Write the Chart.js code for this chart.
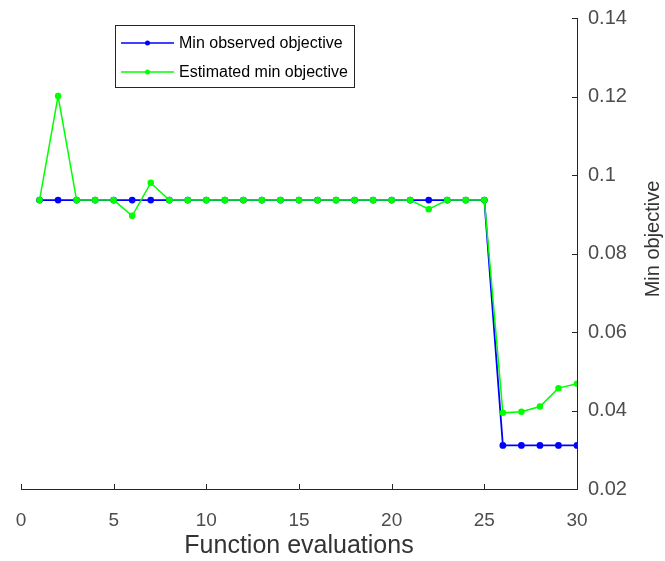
<!DOCTYPE html>
<html>
<head>
<meta charset="utf-8">
<script src="https://cdn.jsdelivr.net/npm/chart.js@4/dist/chart.umd.min.js"></script>
<style>
  html, body { margin: 0; padding: 0; background: #fff; }
  #wrap { width: 665px; height: 561px; }
</style>
</head>
<body>
<div id="wrap"><canvas id="objChart" width="665" height="561"></canvas></div>
<script>
// data
const evals = [1,2,3,4,5,6,7,8,9,10,11,12,13,14,15,16,17,18,19,20,21,22,23,24,25,26,27,28,29,30];
const minObserved = [0.0936,0.0936,0.0936,0.0936,0.0936,0.0936,0.0936,0.0936,0.0936,0.0936,
                     0.0936,0.0936,0.0936,0.0936,0.0936,0.0936,0.0936,0.0936,0.0936,0.0936,
                     0.0936,0.0936,0.0936,0.0936,0.0936,0.0311,0.0311,0.0311,0.0311,0.0311];
const minEstimated = [0.0936,0.1201,0.0936,0.0936,0.0936,0.0896,0.0980,0.0936,0.0936,0.0936,
                      0.0936,0.0936,0.0936,0.0936,0.0936,0.0936,0.0936,0.0936,0.0936,0.0936,
                      0.0936,0.0913,0.0936,0.0936,0.0936,0.0394,0.0397,0.0410,0.0457,0.0468];
const xTicks = [0, 5, 10, 15, 20, 25, 30];
const yTicks = [0.02, 0.04, 0.06, 0.08, 0.1, 0.12, 0.14];
const seriesNames = ['Min observed objective', 'Estimated min objective'];
const xTitle = 'Function evaluations';
const yTitle = 'Min objective';

const axisColor = '#262626';
const labelColor = '#4d4d4d';
const font = '"Liberation Sans", Arial, sans-serif';

// inward ticks, rotated y title and boxed legend like the original figure
const extrasPlugin = {
  id: 'extras',
  afterDraw(chart) {
    const c = chart.ctx;
    const x = chart.scales.x, y = chart.scales.y;
    const area = chart.chartArea;
    c.save();
    c.strokeStyle = axisColor;
    c.lineWidth = 1;
    c.beginPath();
    xTicks.forEach(v => {
      const px = Math.round(x.getPixelForValue(v)) + 0.5;
      c.moveTo(px, area.bottom);
      c.lineTo(px, area.bottom - 5);
    });
    yTicks.forEach(v => {
      const py = Math.round(y.getPixelForValue(v)) + 0.5;
      c.moveTo(area.right, py);
      c.lineTo(area.right - 5, py);
    });
    c.stroke();

    // y title, reading bottom to top
    c.fillStyle = '#333';
    c.font = '20px ' + font;
    c.textAlign = 'center';
    c.textBaseline = 'middle';
    c.translate(653, 239);
    c.rotate(-Math.PI / 2);
    c.fillText(yTitle, 0, 0);
    c.restore();

    // legend
    c.save();
    const lx = 115.5, ly = 25.5, lw = 239, lh = 62;
    c.fillStyle = '#fff';
    c.fillRect(lx, ly, lw, lh);
    c.strokeStyle = axisColor;
    c.lineWidth = 1;
    c.strokeRect(lx, ly, lw, lh);
    c.font = '16px ' + font;
    c.textAlign = 'left';
    c.textBaseline = 'middle';
    chart.data.datasets.forEach((ds, i) => {
      const rowY = 43 + i * 29;
      c.strokeStyle = ds.borderColor;
      c.lineWidth = 1.5;
      c.beginPath();
      c.moveTo(121, rowY);
      c.lineTo(174, rowY);
      c.stroke();
      c.fillStyle = ds.borderColor;
      c.beginPath();
      c.arc(147.5, rowY, 2.5, 0, Math.PI * 2);
      c.fill();
      c.fillStyle = '#000';
      c.fillText(ds.label, 179, rowY + 1);
    });
    c.restore();
  }
};

const chart = new Chart(document.getElementById('objChart'), {
  type: 'line',
  data: {
    datasets: [{
      label: seriesNames[0],
      data: evals.map((e, i) => ({ x: e, y: minObserved[i] })),
      borderColor: '#0000ff',
      backgroundColor: '#0000ff',
      borderWidth: 1.8,
      pointRadius: 2.5,
      order: 1
    }, {
      label: seriesNames[1],
      data: evals.map((e, i) => ({ x: e, y: minEstimated[i] })),
      borderColor: '#00ff00',
      backgroundColor: '#00ff00',
      borderWidth: 1.5,
      pointRadius: 2.5,
      order: 0
    }]
  },
  options: {
    responsive: false,
    animation: false,
    layout: { padding: { left: 21, top: 18, right: 0, bottom: 0 } },
    plugins: {
      legend: { display: false },
      tooltip: { enabled: false }
    },
    scales: {
      x: {
        type: 'linear',
        min: 0,
        max: 30,
        afterFit: s => { s.height = 72; s.paddingLeft = 0; s.paddingRight = 0; },
        afterBuildTicks: s => { s.ticks = xTicks.map(v => ({ value: v })); },
        grid: { display: false, drawTicks: false },
        border: { display: true, color: axisColor, width: 1 },
        ticks: {
          color: labelColor,
          font: { family: font, size: 19 },
          padding: 20,
          maxRotation: 0
        },
        title: {
          display: true,
          text: xTitle,
          color: '#333',
          font: { family: font, size: 25 },
          padding: { top: 0, bottom: 0 }
        }
      },
      y: {
        type: 'linear',
        position: 'right',
        min: 0.02,
        max: 0.14,
        afterFit: s => { s.width = 88; s.paddingTop = 0; s.paddingBottom = 0; },
        afterBuildTicks: s => { s.ticks = yTicks.map(v => ({ value: v })); },
        grid: { display: false, drawTicks: false },
        border: { display: true, color: axisColor, width: 1 },
        ticks: {
          color: labelColor,
          font: { family: font, size: 20 },
          padding: 11,
          callback: v => String(+v.toFixed(2))
        }
      }
    }
  },
  plugins: [extrasPlugin]
});
</script>
</body>
</html>
